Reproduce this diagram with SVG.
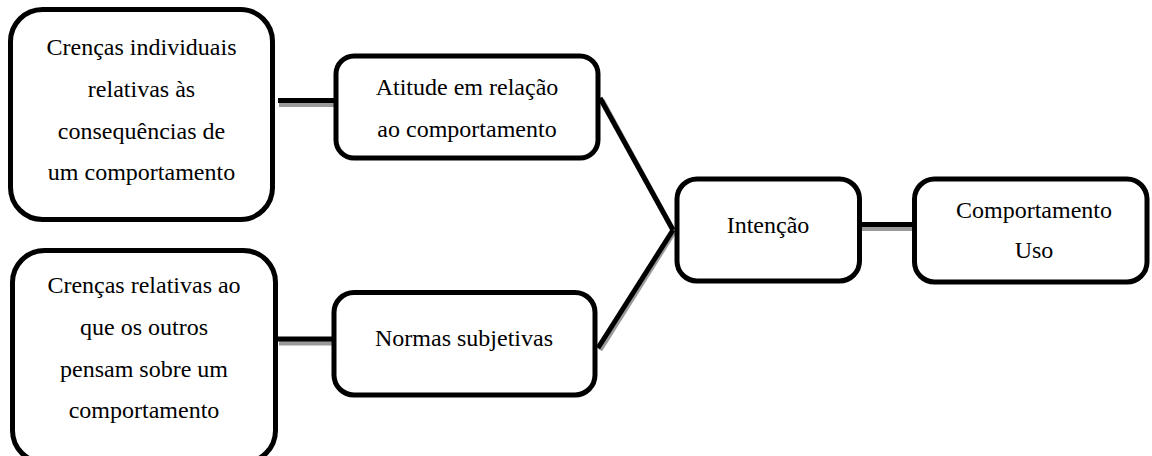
<svg xmlns="http://www.w3.org/2000/svg" width="1152" height="456" viewBox="0 0 1152 456">
<style>
.box{fill:#fff;stroke:#000;stroke-width:5}
.t{font-family:"Liberation Serif","Times New Roman",serif;font-size:24px;fill:#000;text-anchor:middle}
.ln{stroke:#000;stroke-width:5;fill:none}
.sh{stroke:#9a9a9a;stroke-width:5;fill:none}
</style>
<rect width="1152" height="456" fill="#fff"/>
<g id="connectors">
<line class="sh" x1="279" y1="104.5" x2="334" y2="104.5"/>
<line class="ln" x1="278" y1="100.5" x2="334" y2="100.5"/>
<line class="sh" x1="279" y1="343" x2="332" y2="343"/>
<line class="ln" x1="277" y1="339" x2="332" y2="339"/>
<line class="sh" x1="862" y1="228.5" x2="913" y2="228.5"/>
<line class="ln" x1="861" y1="224.5" x2="913" y2="224.5"/>
<line class="sh" x1="602" y1="100" x2="674" y2="232"/>
<line class="sh" x1="600" y1="350" x2="674" y2="232"/>
<line class="ln" x1="600" y1="98" x2="673" y2="230"/>
<line class="ln" x1="598" y1="348" x2="673" y2="230"/>
</g>
<g id="n1">
<rect class="box" x="10.5" y="9.5" width="262" height="210" rx="32"/>
<text class="t" x="141.5" y="55">Crenças individuais</text>
<text class="t" x="141.5" y="97">relativas às</text>
<text class="t" x="141.5" y="138.5">consequências de</text>
<text class="t" x="141.5" y="180">um comportamento</text>
</g>
<g id="n2">
<rect class="box" x="336" y="56" width="262" height="102" rx="18"/>
<text class="t" x="467" y="95">Atitude em relação</text>
<text class="t" x="467" y="137">ao comportamento</text>
</g>
<g id="n3">
<rect class="box" x="12.5" y="250.5" width="263" height="212" rx="32"/>
<text class="t" x="144" y="293">Crenças relativas ao</text>
<text class="t" x="144" y="335">que os outros</text>
<text class="t" x="144" y="377">pensam sobre um</text>
<text class="t" x="144" y="418">comportamento</text>
</g>
<g id="n4">
<rect class="box" x="334" y="292.5" width="261" height="102.5" rx="20"/>
<text class="t" x="464" y="346">Normas subjetivas</text>
</g>
<g id="n5">
<rect class="box" x="677" y="179" width="182.5" height="102" rx="20"/>
<text class="t" x="768" y="233">Intenção</text>
</g>
<g id="n6">
<rect class="box" x="914.5" y="179" width="232.5" height="103" rx="20"/>
<text class="t" x="1034" y="218">Comportamento</text>
<text class="t" x="1034" y="258">Uso</text>
</g>
</svg>
